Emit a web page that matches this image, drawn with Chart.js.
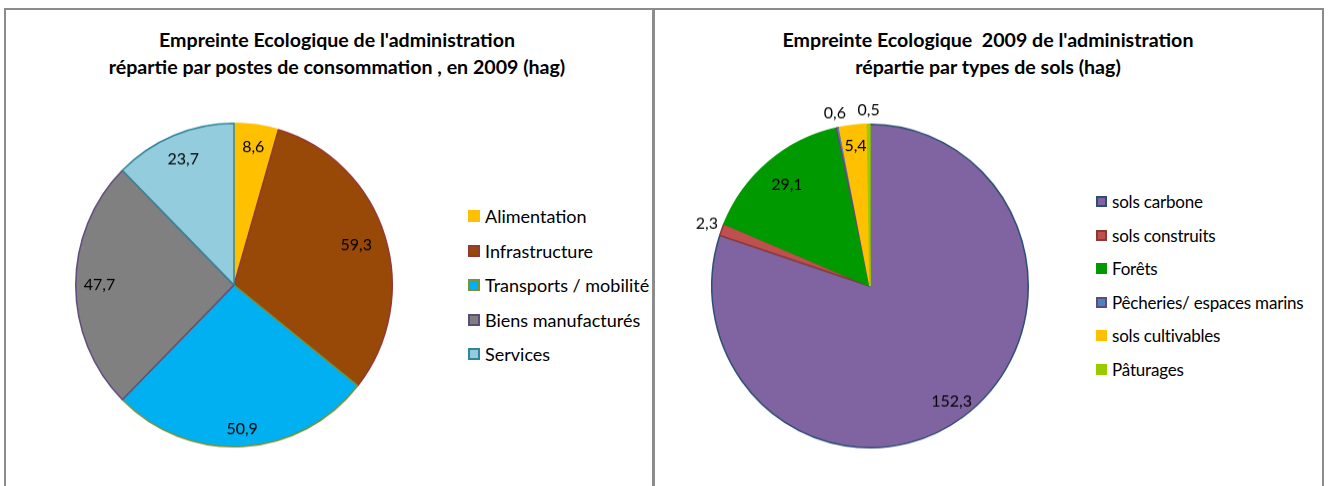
<!DOCTYPE html>
<html>
<head>
<meta charset="utf-8">
<script src="https://cdn.jsdelivr.net/npm/chart.js@4.4.0/dist/chart.umd.min.js"></script>
<style>
body { margin: 0; width: 1328px; height: 486px; overflow: hidden; background: #fff; font-family: Lato, 'Open Sans', sans-serif; color: #000; }
.panel { position: absolute; top: 8px; height: 600px; border: 2px solid #8c8c8c; box-sizing: border-box; }
#panel1 { left: 4px; width: 651px; }
#panel2 { left: 652px; width: 672px; }
.title { position: absolute; width: 600px; top: 26px; text-align: center; font-weight: bold; font-size: 19.6px; line-height: 27px; white-space: nowrap; }
#title1 { left: 37px; }
#title2 { left: 688px; }
.pie { position: absolute; width: 400px; height: 400px; transform: scaleY(1.022); transform-origin: 50% 50%; }
#pie1 { left: 34px; top: 85px; }
#pie2 { left: 670px; top: 86px; }
.legend { position: absolute; }
.legend .row { display: flex; align-items: center; white-space: nowrap; }
.legend .sw { box-sizing: border-box; border: 2px solid; flex: none; }
#legend1 { left: 468px; top: 199px; font-size: 18px; }
#legend1 .row { height: 34.5px; }
#legend1 .sw { width: 12px; height: 12px; margin-right: 5px; }
#legend2 { left: 1096px; top: 185px; font-size: 17px; letter-spacing: -0.2px; }
#legend2 .row { height: 33.5px; }
#legend2 .sw { width: 11px; height: 11px; margin-right: 5px; }
</style>
</head>
<body>
<div class="panel" id="panel1"></div>
<div class="panel" id="panel2"></div>
<div class="title" id="title1">Empreinte Ecologique de l'administration<br>répartie par postes de consommation , en 2009 (hag)</div>
<div class="title" id="title2">Empreinte Ecologique&nbsp; 2009 de l'administration<br>répartie par types de sols (hag)</div>
<div class="pie" id="pie1"><canvas id="chart1" width="400" height="400"></canvas></div>
<div class="pie" id="pie2"><canvas id="chart2" width="400" height="400"></canvas></div>
<div class="legend" id="legend1"></div>
<div class="legend" id="legend2"></div>

<script>
// Chart 1: par postes de consommation (hag)
const postes = ['Alimentation', 'Infrastructure', 'Transports / mobilité', 'Biens manufacturés', 'Services'];
const postesValues = [8.6, 59.3, 50.9, 47.7, 23.7];

// Chart 2: par types de sols (hag)
const sols = ['sols carbone', 'sols construits', 'Forêts', 'Pêcheries/ espaces marins', 'sols cultivables', 'Pâturages'];
const solsValues = [152.3, 2.3, 29.1, 0.6, 5.4, 0.5];

// colours
const postesFill = ['#FFC000', '#984807', '#00B0F0', '#808080', '#93CDDD'];
const postesLine = ['#FFC000', '#953735', '#77933C', '#604A7B', '#31859C'];
const solsFill = ['#8064A2', '#C0504D', '#009A00', '#4F81BD', '#FFC000', '#99CC00'];
const solsLine = ['#2C4D75', '#8C3836', '#009A00', '#604A7B', '#FFC000', '#99CC00'];

// where the value labels sit, as a fraction of the radius
const postesLabelR = [0.86, 0.81, 0.89, 0.85, 0.84];
const solsLabelR = [0.88, 1.10, 0.82, 1.09, 0.87, 1.09];

function fmt(v) {
    return String(v).replace('.', ',');
}

const valueLabels = {
    id: 'valueLabels',
    afterDatasetsDraw(chart, args, opts) {
        const ctx = chart.ctx;
        const meta = chart.getDatasetMeta(0);
        const values = chart.data.datasets[0].data;
        ctx.save();
        ctx.font = '16px Lato, "Open Sans", sans-serif';
        ctx.fillStyle = '#000';
        ctx.textAlign = 'center';
        ctx.textBaseline = 'middle';
        meta.data.forEach(function(arc, i) {
            const p = arc.getProps(['x', 'y', 'startAngle', 'endAngle', 'outerRadius'], true);
            const a = (p.startAngle + p.endAngle) / 2;
            const r = p.outerRadius * opts.radius[i];
            ctx.fillText(fmt(values[i]), p.x + Math.cos(a) * r, p.y + Math.sin(a) * r);
        });
        ctx.restore();
    }
};

function makePie(id, labels, values, fill, line, labelR) {
    return new Chart(document.getElementById(id), {
        type: 'pie',
        data: {
            labels: labels,
            datasets: [{
                data: values,
                backgroundColor: fill,
                borderColor: line,
                borderWidth: 1.5
            }]
        },
        options: {
            responsive: false,
            animation: false,
            layout: { padding: 41 },
            plugins: {
                legend: { display: false },
                tooltip: { enabled: false },
                valueLabels: { radius: labelR }
            }
        },
        plugins: [valueLabels]
    });
}

function makeLegend(id, labels, fill, line) {
    const box = document.getElementById(id);
    labels.forEach(function(name, i) {
        const row = document.createElement('div');
        row.className = 'row';
        const sw = document.createElement('span');
        sw.className = 'sw';
        sw.style.background = fill[i];
        sw.style.borderColor = line[i];
        const txt = document.createElement('span');
        txt.textContent = name;
        row.appendChild(sw);
        row.appendChild(txt);
        box.appendChild(row);
    });
}

makePie('chart1', postes, postesValues, postesFill, postesLine, postesLabelR);
makePie('chart2', sols, solsValues, solsFill, solsLine, solsLabelR);
makeLegend('legend1', postes, postesFill, postesLine);
makeLegend('legend2', sols, solsFill, solsLine);
</script>
</body>
</html>
